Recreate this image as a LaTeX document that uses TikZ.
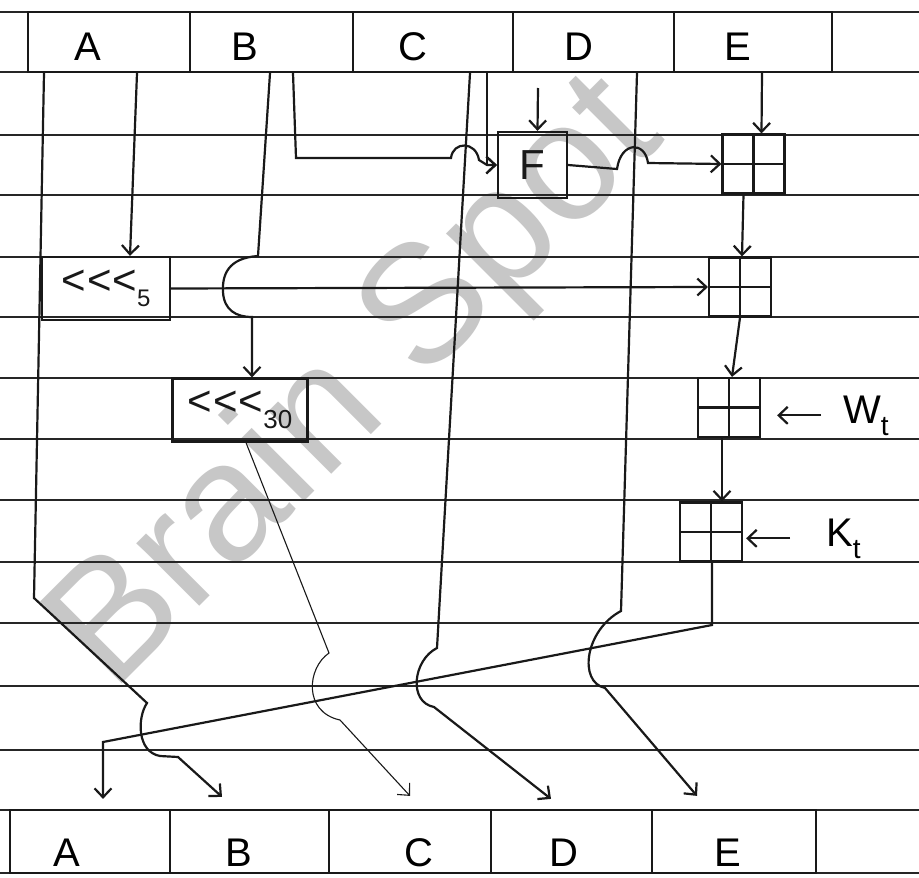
\documentclass[tikz,border=0pt]{standalone}
\usepackage{fontspec}
\setmainfont{Liberation Sans}
\usetikzlibrary{arrows.meta}
\newcommand{\mysub}[2][24]{\raisebox{-0.3em}{\fontsize{#1}{#1}\selectfont #2}}
\newcommand{\rotl}{<\kern1pt<\kern1pt<}
\begin{document}
\begin{tikzpicture}[x=1pt,y=-1pt,
  ruled/.style={line width=1.8pt, black!85},
  ink/.style={line width=2.2pt, black!90},
  thin ink/.style={line width=1.1pt, black!90},
  arr/.style={-{Straight Barb[length=9pt,width=17pt]}},
  cell/.style={draw, line width=2.2pt, inner sep=0pt, black!90},
  lbl/.style={inner sep=0pt, font=\fontsize{40}{40}\selectfont},
  opbox/.style={draw, line width=2.2pt, inner sep=0pt, black!90, font=\fontsize{42}{42}\selectfont},
  adder/.style={draw, line width=2.2pt, inner sep=0pt, minimum width=62, minimum height=59, black!90,
     path picture={\draw[line width=2.2pt] (path picture bounding box.north) -- (path picture bounding box.south) (path picture bounding box.west) -- (path picture bounding box.east);}},
  wm/.style={inner sep=0pt, text=black!22, font=\fontsize{168}{168}\selectfont}
]
\useasboundingbox (0,0) rectangle (919,878);
\fill[white] (0,0) rectangle (919,878);
\node[wm, rotate=45, anchor=base west] (wmark) at (112,694) {Brain Spot};
\foreach \yy in {12,72,135,195,257,317,378,439,500,562,623,686,750,810,873}
  \draw[ruled] (0,\yy) -- (919,\yy);
% top register
\node[cell, minimum width=162, minimum height=60] (tA) at (109,42) {};
\node[cell, minimum width=163, minimum height=60] (tB) at (271.5,42) {};
\node[cell, minimum width=160, minimum height=60] (tC) at (433,42) {};
\node[cell, minimum width=161, minimum height=60] (tD) at (593.5,42) {};
\node[cell, minimum width=158, minimum height=60] (tE) at (753,42) {};
\node[lbl] (tAl) at (88,47) {A};
\node[lbl] (tBl) at (245,47) {B};
\node[lbl] (tCl) at (413,47) {C};
\node[lbl] (tDl) at (579,47) {D};
\node[lbl] (tEl) at (738,47) {E};
% bottom register
\node[cell, minimum width=160, minimum height=63] (bA) at (90,841.5) {};
\node[cell, minimum width=159, minimum height=63] (bB) at (249.5,841.5) {};
\node[cell, minimum width=162, minimum height=63] (bC) at (410,841.5) {};
\node[cell, minimum width=161, minimum height=63] (bD) at (571.5,841.5) {};
\node[cell, minimum width=164, minimum height=63] (bE) at (734,841.5) {};
\node[lbl] (bAl) at (67,853) {A};
\node[lbl] (bBl) at (239,853) {B};
\node[lbl] (bCl) at (419,853) {C};
\node[lbl] (bDl) at (564,853) {D};
\node[lbl] (bEl) at (728,853) {E};
% operation boxes
\node[opbox, minimum width=128, minimum height=63] (s5) at (106,288.5) {\rotl\mysub{5}};
\node[opbox, minimum width=135, minimum height=63] (s30) at (240,410) {\rotl\mysub[26]{30}};
\node[opbox, minimum width=69, minimum height=66] (F) at (532.5,165) {F};
\node[adder] (p1) at (753.5,164) {};
\node[adder] (p2) at (740,287) {};
\node[adder] (p3) at (729,407.5) {};
\node[adder] (p4) at (711,532) {};
\node[lbl, anchor=base west] (W) at (843,423) {W\mysub[28]{t}};
\node[lbl, anchor=base west] (K) at (826,546) {K\mysub[28]{t}};
% start points on the top register
\coordinate (a1) at (44,0 |- tA.south);
\coordinate (a2) at (137,0 |- tA.south);
\coordinate (b1) at (270,0 |- tB.south);
\coordinate (b2) at (293,0 |- tB.south);
\coordinate (c1) at (470,0 |- tC.south);
\coordinate (c2) at (487,0 |- tC.south);
\coordinate (d1) at (538,88);
\coordinate (d2) at (637,0 |- tD.south);
\coordinate (e1) at (762,0 |- tE.south);
% connectors
\draw[ink, arr] (a1) -- (34,598) -- (147,703) .. controls (137,718) and (137,752) .. (160,756) -- (178,757) -- ([xshift=-27.5pt,yshift=12pt]bB.north);
\draw[ink, arr] (a2) -- ([xshift=24pt]s5.north);
\draw[ink, arr] (b1) -- (258,256) .. controls (228,258) and (222,275) .. (223,292) .. controls (224,310) and (236,317) .. (252,317) -- ([xshift=12pt]s30.north);
\draw[ink, arr] (b2) -- (296,158) -- (451,158) .. controls (453,141) and (476,141) .. (479,160) -- (487,165) -- (F.west);
\draw[ink, arr] (c2) -- (487,165) -- (F.west);
\draw[ink, arr] (c1) -- (437,648) .. controls (413,660) and (408,702) .. (434,707) -- ([xshift=-20.5pt,yshift=10pt]bD.north);
\draw[ink, arr] (d1) -- ([xshift=5pt]F.north);
\draw[ink, arr] (d2) -- (621,611) .. controls (585,630) and (578,682) .. (605,688) -- ([xshift=-37pt,yshift=13pt]bE.north);
\draw[ink, arr] (e1) -- ([xshift=8pt]p1.north);
\draw[ink, arr] (F.east) -- (617,169) .. controls (621,141) and (645,141) .. (648,163) -- (p1.west);
\draw[ink, arr] ([xshift=-10pt]p1.south) -- ([xshift=2pt]p2.north);
\draw[ink, arr] (s5.east) -- (p2.west);
\draw[ink, arr] (p2.south) -- ([xshift=3pt]p3.north);
\draw[ink, arr] ([xshift=-7pt]p3.south) -- ([xshift=11pt]p4.north);
\draw[ink, arr, shorten <=22pt, shorten >=16pt] (W.west) -- (W.west -| p3.east);
\draw[ink, arr, shorten <=36pt, shorten >=3pt] (K.west) -- (K.west -| p4.east);
\draw[thin ink, arr] ([xshift=6pt]s30.south) -- (329,653) .. controls (307,668) and (303,712) .. (340,720) -- ([yshift=13pt]bC.north);
\draw[ink, arr] ([xshift=1pt]p4.south) -- (712,625) -- (103,742) -- ([xshift=13pt,yshift=10pt]bA.north);
\end{tikzpicture}
\end{document}
